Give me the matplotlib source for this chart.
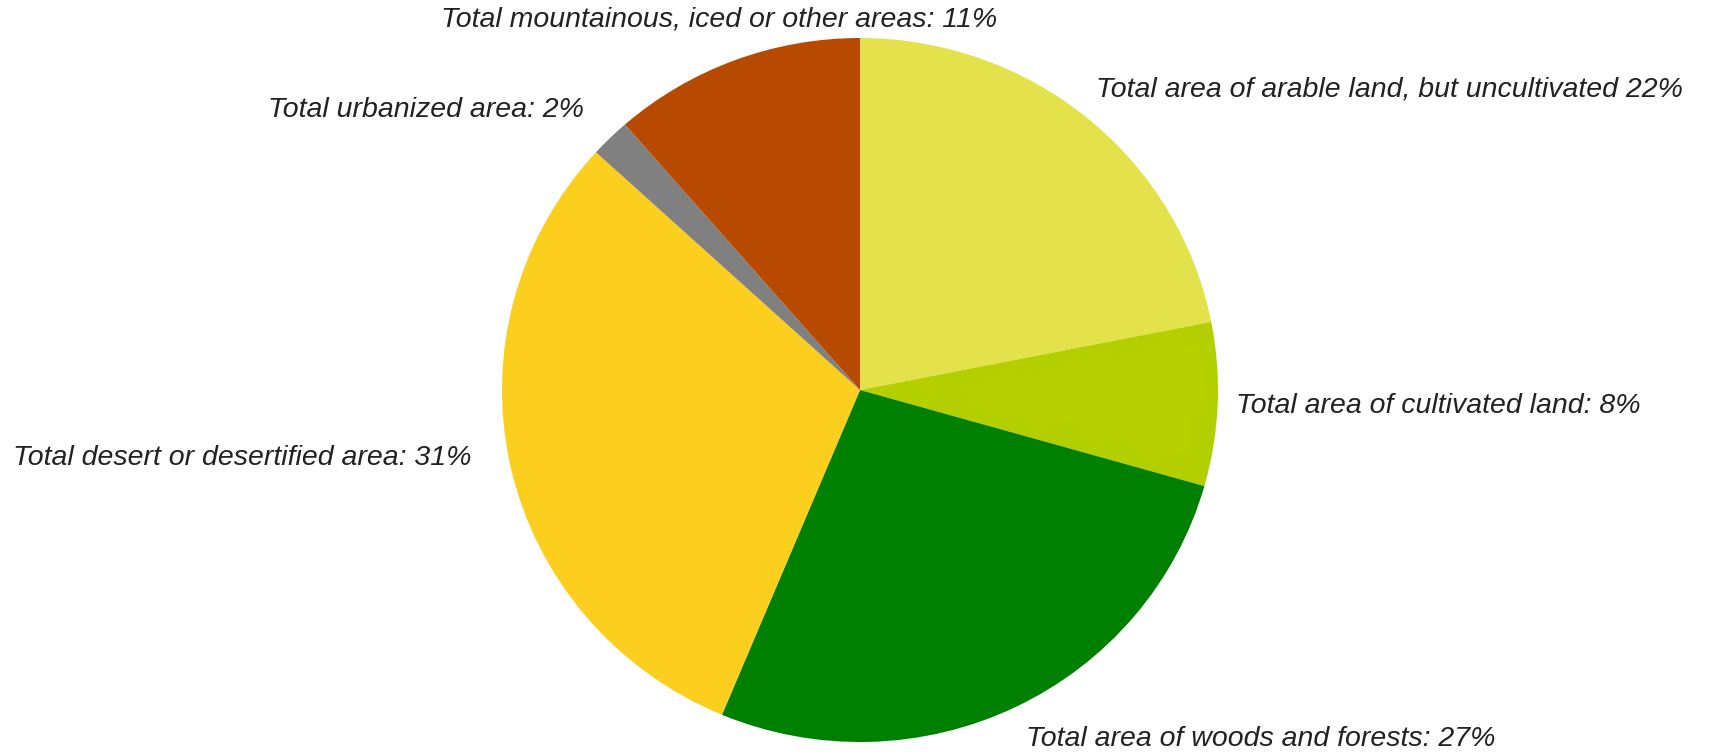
import matplotlib
matplotlib.use("Agg")
import matplotlib.pyplot as plt

# Data (clockwise from 12 o'clock)
categories = [
    "Total area of arable land, but uncultivated 22%",
    "Total area of cultivated land: 8%",
    "Total area of woods and forests: 27%",
    "Total desert or desertified area: 31%",
    "Total urbanized area: 2%",
    "Total mountainous, iced or other areas: 11%",
]
shares = [21.9, 7.5, 26.9, 30.5, 1.8, 11.4]
colors = ["#E3E24A", "#B3CF00", "#008000", "#FCCF1E", "#808080", "#B84A00"]

W, H = 1730, 756
fig = plt.figure(figsize=(W / 100, H / 100), dpi=100)
ax = fig.add_axes([0, 0, 1, 1])

# slight horizontal stretch as in the reference (rx ~358 px, ry ~352 px)
k = 358 / 352
cx, cy, r = 860, (H - 390) * k, 358
ax.pie(shares, colors=colors, startangle=90, counterclock=False,
       center=(cx, cy), radius=r, frame=True,
       wedgeprops=dict(linewidth=0))
ax.set_aspect("auto")
ax.set_xlim(0, W)
ax.set_ylim(0, H * k)
ax.axis("off")

label_pos = [
    (1096, 90),
    (1236, 406),
    (1026, 739),
    (13, 458),
    (268, 110),
    (441, 20),
]
for text, (x, y) in zip(categories, label_pos):
    fig.text(x / W, 1 - y / H, text, ha="left", va="center", fontsize=20.5,
             style="italic", family="Liberation Sans", color="#222222")

fig.savefig("out.png", dpi=100)
